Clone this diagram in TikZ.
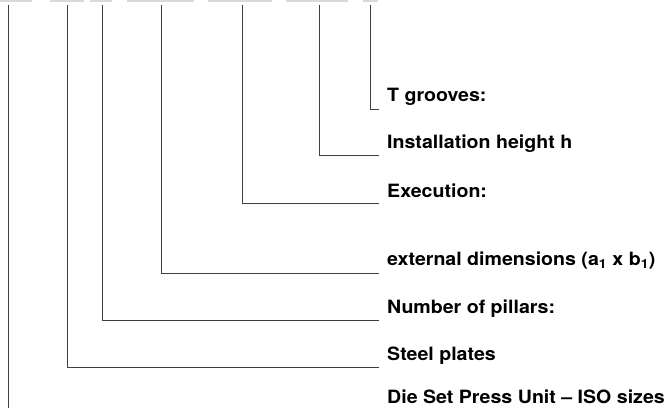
\documentclass[tikz,border=0pt]{standalone}
\usepackage{fontspec}
\setmainfont{TeX Gyre Heros}[FakeStretch=1.07]
\begin{document}
\begin{tikzpicture}[x=1pt,y=-1pt,
  lbl/.style={anchor=base west,inner sep=0pt,font=\bfseries\fontsize{18.3}{22}\selectfont,text=black},
  lead/.style={draw=black!75,line width=1pt},
  topbar/.style={fill=black!15,draw=none}]
\useasboundingbox (0,0) rectangle (667,409);
% remnants of bars at top edge
\fill[topbar] (0,0) rectangle (32,1.6);
\fill[topbar] (50,0) rectangle (84,1.6);
\fill[topbar] (90,0) rectangle (112,1.6);
\fill[topbar] (127,0) rectangle (194,1.6);
\fill[topbar] (208,0) rectangle (272,1.6);
\fill[topbar] (286,0) rectangle (348,1.6);
\fill[topbar] (363,0) rectangle (378,1.6);
% top ends of leaders
\coordinate (t1) at (8,5);
\coordinate (t2) at (67,5);
\coordinate (t3) at (102,5);
\coordinate (t4) at (161,5);
\coordinate (t5) at (242,5);
\coordinate (t6) at (319,5);
\coordinate (t7) at (370,5);
% elbow ends
\coordinate (e1) at (8,408);
\coordinate (e2) at (379,367);
\coordinate (e3) at (379,320);
\coordinate (e4) at (379,273);
\coordinate (e5) at (379,203);
\coordinate (e6) at (379,156);
\coordinate (e7) at (379,110);
% labels
\node[lbl] (l7) at (387,102) {T grooves:};
\node[lbl] (l6) at (387,149) {Installation height h};
\node[lbl] (l5) at (387,197) {Execution:};
\node[lbl] (l4) at (387,265) {external dimensions (a\textsubscript{1} x b\textsubscript{1})};
\node[lbl] (l3) at (387,313) {Number of pillars:};
\node[lbl] (l2) at (387,360) {Steel plates};
\node[lbl] (l1) at (387,403) {Die Set Press Unit – ISO sizes};
% leaders
\draw[lead] (t1) -- (e1);
\draw[lead] (t2) |- (e2);
\draw[lead] (t3) |- (e3);
\draw[lead] (t4) |- (e4);
\draw[lead] (t5) |- (e5);
\draw[lead] (t6) |- (e6);
\draw[lead] (t7) |- (e7);
\end{tikzpicture}
\end{document}
